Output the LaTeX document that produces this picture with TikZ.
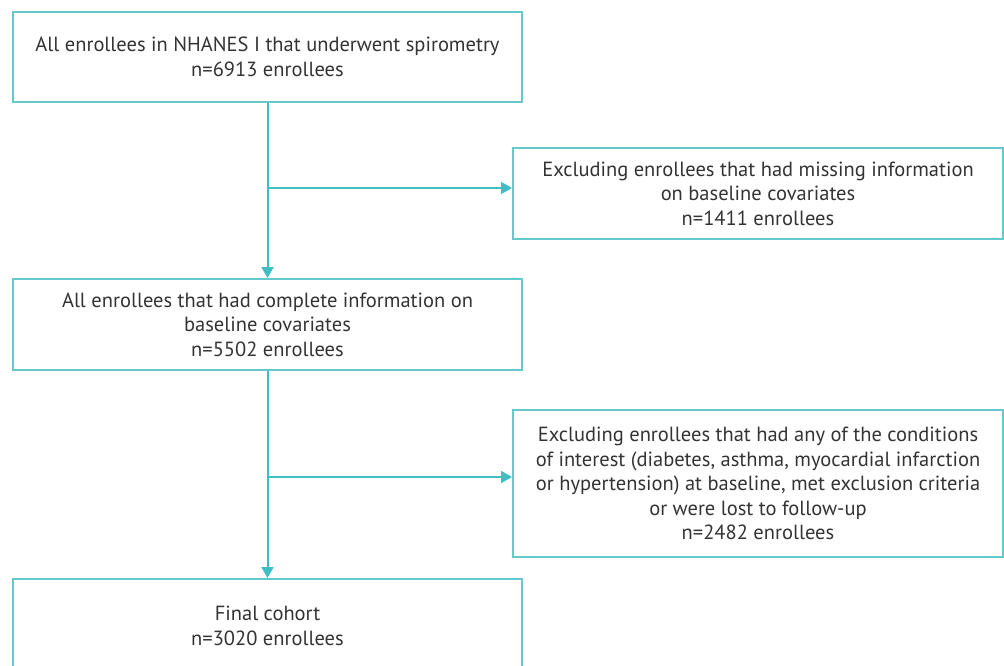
\documentclass[tikz,border=0pt]{standalone}
\usepackage{fontspec}
\setmainfont{PT Sans}
\usepackage{xcolor}
\usetikzlibrary{
    arrows.meta,
    positioning,
    calc
}
\definecolor{flowTeal}{RGB}{64,190,196}
\definecolor{flowEdge}{RGB}{100,200,205}
\definecolor{flowText}{RGB}{51,51,51}
\tikzset{
  box/.style     = {draw=flowEdge, line width=2pt, inner sep=0pt,
                    align=center, text=flowText,
                    font=\fontsize{20.5}{24.5}\selectfont},
  mainbox/.style = {box, minimum width=509pt},
  sidebox/.style = {box, minimum width=490pt},
  arr/.style     = {-{Triangle[length=11pt,width=12pt]}, flowTeal,
                    line width=2pt}
}

\begin{document}
\begin{tikzpicture}[x=1pt, y=-1pt]
\useasboundingbox (0,0) rectangle (1004,666);

% boxes
\node[mainbox, minimum height=90pt] (all) at (267.5,57)
    {All enrollees in NHANES I that underwent spirometry\\
     n=6913 enrollees};
\node[sidebox, minimum height=91pt] (miss) at (758,193.5)
    {Excluding enrollees that had missing information\\
     on baseline covariates\\
     n=1411 enrollees};
\node[mainbox, minimum height=91pt] (compl) at (267.5,324.5)
    {All enrollees that had complete information on\\
     baseline covariates\\
     n=5502 enrollees};
\node[sidebox, minimum height=147pt] (cond) at (758,483.5)
    {Excluding enrollees that had any of the conditions\\
     of interest (diabetes, asthma, myocardial infarction\\
     or hypertension) at baseline, met exclusion criteria\\
     or were lost to follow-up\\
     n=2482 enrollees};
\node[mainbox, minimum height=94pt] (final) at (267.5,626)
    {Final cohort\\
     n=3020 enrollees};

% main flow
\draw[arr] (all) -- (compl);
\draw[arr] (compl) -- (final);

% exclusions
\coordinate (b1) at ($(all.south)!0.5!(compl.north)+(0,-2.5)$);
\coordinate (b2) at ($(compl.south)!0.5!(final.north)+(0,2.5)$);
\draw[arr] (b1) -- (b1 -| miss.west);
\draw[arr] (b2) -- (b2 -| cond.west);

\end{tikzpicture}
\end{document}
